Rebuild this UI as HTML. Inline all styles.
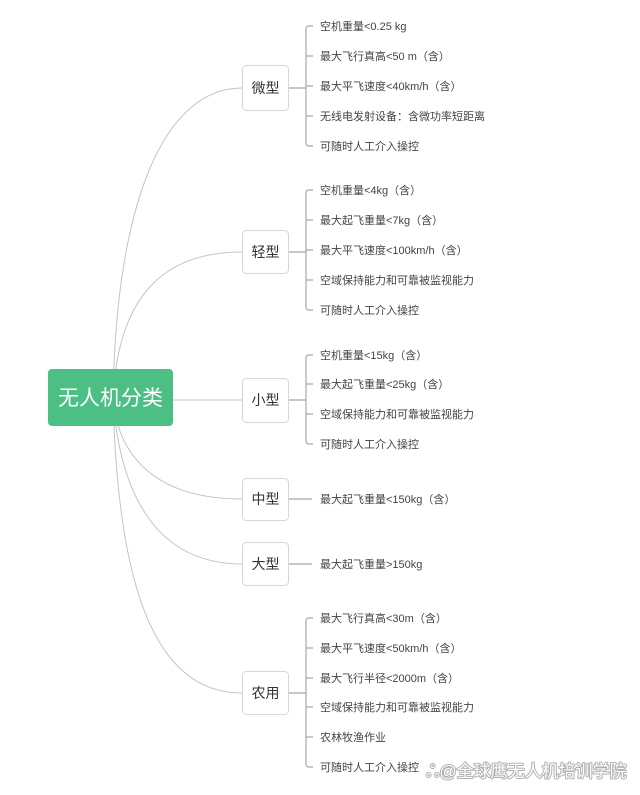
<!DOCTYPE html>
<html><head><meta charset="utf-8"><style>
html,body{margin:0;padding:0;background:#fff;}
svg{display:block;}
text{font-family:"Liberation Sans","Noto Sans CJK SC",sans-serif;}
.it{font-size:11px;fill:#444;}
.nd{font-size:14px;fill:#333;}
</style></head><body>
<svg width="640" height="795" viewBox="0 0 640 795" xmlns="http://www.w3.org/2000/svg">
<g fill="none" stroke="#c4c4c4" stroke-width="1">
<path d="M113 398 C116 200 165 88 242 88"/>
<path d="M113 398 C118 300 160 252 242 252"/>
<path d="M113 400 L242 400"/>
<path d="M113 398 C118 460 160 499 242 499"/>
<path d="M113 398 C120 500 160 564 242 564"/>
<path d="M113 398 C118 600 160 693 242 693"/>
</g>
<g fill="none" stroke="#a8a8a8" stroke-width="1.2">
<path d="M289 88 H306"/><path d="M313 26 H309 Q306 26 306 29 V143 Q306 146 309 146 H313"/>
<path d="M306 56 H313 M306 86 H313 M306 116 H313"/>
<path d="M289 252 H306"/><path d="M313 190 H309 Q306 190 306 193 V307 Q306 310 309 310 H313"/>
<path d="M306 220 H313 M306 250 H313 M306 280 H313"/>
<path d="M289 400 H306"/><path d="M313 355 H309 Q306 355 306 358 V441 Q306 444 309 444 H313"/>
<path d="M306 384 H313 M306 414 H313"/>
<path d="M289 499 H312"/>
<path d="M289 564 H312"/>
<path d="M289 693 H306"/><path d="M313 618 H309 Q306 618 306 621 V764 Q306 767 309 767 H313"/>
<path d="M306 648 H313 M306 678 H313 M306 707 H313 M306 737 H313"/>
</g>
<rect x="48" y="369" width="125" height="57" rx="4" fill="#4cbf85"/>
<text x="110.5" y="405" text-anchor="middle" font-size="21" fill="#fff">无人机分类</text>
<g fill="#fff" stroke="#d6d6d6" stroke-width="1">
<rect x="242.5" y="65.5" width="46" height="45" rx="4"/>
<rect x="242.5" y="230.5" width="46" height="43" rx="4"/>
<rect x="242.5" y="378.5" width="46" height="44" rx="4"/>
<rect x="242.5" y="478.5" width="46" height="42" rx="4"/>
<rect x="242.5" y="542.5" width="46" height="43" rx="4"/>
<rect x="242.5" y="671.5" width="46" height="43" rx="4"/>
</g>
<g class="nd" text-anchor="middle">
<text x="265.5" y="93">微型</text>
<text x="265.5" y="257">轻型</text>
<text x="265.5" y="405">小型</text>
<text x="265.5" y="504">中型</text>
<text x="265.5" y="569">大型</text>
<text x="265.5" y="698">农用</text>
</g>
<g class="it">
<text x="320" y="30">空机重量&lt;0.25 kg</text>
<text x="320" y="60">最大飞行真高&lt;50 m（含）</text>
<text x="320" y="90">最大平飞速度&lt;40km/h（含）</text>
<text x="320" y="120">无线电发射设备：含微功率短距离</text>
<text x="320" y="150">可随时人工介入操控</text>
<text x="320" y="194">空机重量&lt;4kg（含）</text>
<text x="320" y="224">最大起飞重量&lt;7kg（含）</text>
<text x="320" y="254">最大平飞速度&lt;100km/h（含）</text>
<text x="320" y="284">空域保持能力和可靠被监视能力</text>
<text x="320" y="314">可随时人工介入操控</text>
<text x="320" y="359">空机重量&lt;15kg（含）</text>
<text x="320" y="388">最大起飞重量&lt;25kg（含）</text>
<text x="320" y="418">空域保持能力和可靠被监视能力</text>
<text x="320" y="448">可随时人工介入操控</text>
<text x="320" y="503">最大起飞重量&lt;150kg（含）</text>
<text x="320" y="568">最大起飞重量&gt;150kg</text>
<text x="320" y="622">最大飞行真高&lt;30m（含）</text>
<text x="320" y="652">最大平飞速度&lt;50km/h（含）</text>
<text x="320" y="682">最大飞行半径&lt;2000m（含）</text>
<text x="320" y="711">空域保持能力和可靠被监视能力</text>
<text x="320" y="741">农林牧渔作业</text>
<text x="320" y="771">可随时人工介入操控</text>
</g>
<text x="426" y="777" font-size="17" fill="#fff" stroke="#b0b0b0" stroke-width="2" paint-order="stroke" stroke-linejoin="round">ஃ@全球鹰无人机培训学院</text>
</svg>
</body></html>
